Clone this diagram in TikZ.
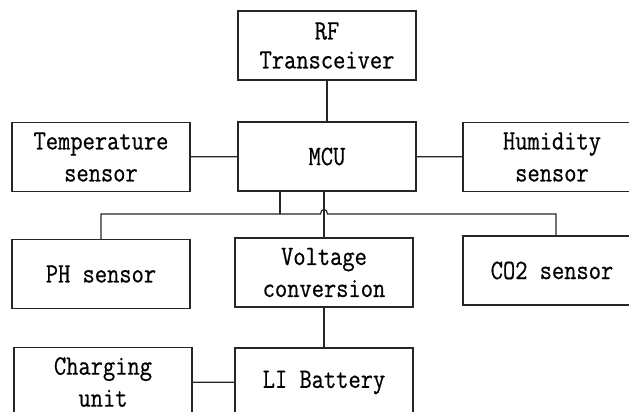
\documentclass[tikz,border=0pt]{standalone}
\usepackage{fontspec}
\newfontfamily\boxfont[FakeStretch=0.85, FakeBold=0.6]{Latin Modern Mono}
\usetikzlibrary{calc}

\begin{document}
\begin{tikzpicture}[
    x=1pt, y=-1pt,
    block/.style={rectangle, draw=black!85, line width=1.2pt, minimum width=178pt, minimum height=69pt, align=center, inner sep=0pt, font={\boxfont\fontsize{28}{32}\selectfont}},
    link/.style={draw=black!85, line width=1.2pt}
]
\clip (0,0) rectangle (629,412);

% Top row
\node[block] (rf) at (327, 45.5) {RF\\[-3pt]Transceiver};
\node[block] (mcu) at (327, 156.5) {MCU};
\node[block] (temp) at (101, 157) {Temperature\\sensor};
\node[block] (humid) at (552, 157) {Humidity\\sensor};

% Sensor row
\node[block] (ph) at (101, 274) {PH sensor};
\node[block] (volt) at (324, 272.5) {Voltage\\conversion};
\node[block] (co2) at (552, 270.5) {CO2 sensor};

% Power
\node[block] (charge) at (103, 382) {Charging\\unit};
\node[block] (batt) at (324, 382.5) {LI Battery};

% MCU links
\draw[link] (rf) -- (mcu);
\draw[link] (temp) -- (mcu);
\draw[link] (mcu) -- (humid);

% Sensor bus (hops over the power line)
\coordinate (bus) at (0, 214);
\coordinate (tap) at (mcu.south -| 280,0);
\coordinate (hop) at (volt.north |- bus);
\draw[link] (tap) -- (tap |- bus);
\draw[link] (ph.north) -- (ph.north |- bus) -- ([xshift=-3.5pt]hop)
    .. controls ([xshift=-3.5pt, yshift=6pt]hop) and ([xshift=3.5pt, yshift=6pt]hop) .. ([xshift=3.5pt]hop)
    -- ([xshift=4pt]co2.north |- bus) -- ([xshift=4pt]co2.north);

% Power links
\draw[link] (volt.north) -- (volt.north |- mcu.south);
\draw[link] (volt) -- (batt);
\draw[link] (charge) -- (batt);

\end{tikzpicture}
\end{document}
